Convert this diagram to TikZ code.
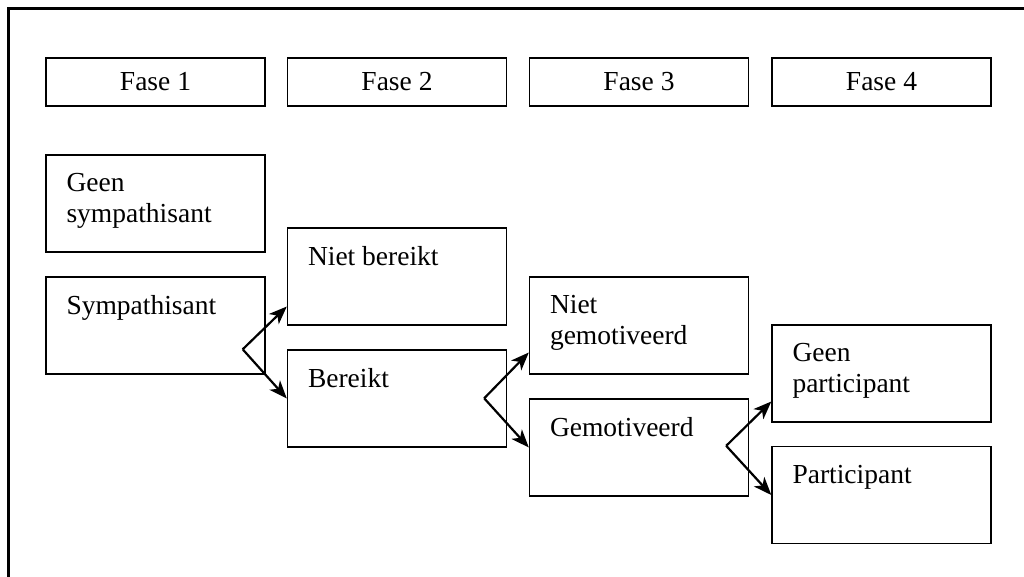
\documentclass[tikz,border=0pt]{standalone}
\usepackage{fontspec}
\setmainfont{Liberation Serif}
\usetikzlibrary{arrows.meta}
\begin{document}
\begin{tikzpicture}[x=1pt,y=-1pt,
	fase/.style={draw,line width=1.4pt,minimum width=219pt,minimum height=48pt,inner sep=0pt,font=\fontsize{27.5}{31}\selectfont},
	vak/.style={draw,line width=1.4pt,minimum width=219pt,minimum height=97pt,inner sep=0pt},
	tekst/.style={anchor=north west,inner sep=0pt,align=left,font=\fontsize{27.5}{31}\selectfont},
	pijl/.style={-{Stealth[length=18pt,width=14pt,inset=5pt]},line width=2.2pt}]
	\useasboundingbox (0,0) rectangle (1024,576);
	\draw[line width=2.5pt] (8.5,580) -- (8.5,8.5) -- (1030,8.5); % kader
	% fasen
	\node[fase] (f1) at (155.5,82) {Fase 1};
	\node[fase] (f2) at (397,82) {Fase 2};
	\node[fase] (f3) at (639,82) {Fase 3};
	\node[fase] (f4) at (881.5,82) {Fase 4};
	% vakken
	\node[vak] (gs) at (155.5,203.5) {};
	\node[vak] (sy) at (155.5,325.5) {};
	\node[vak] (nb) at (397,276.5) {};
	\node[vak] (be) at (397,398.5) {};
	\node[vak] (ng) at (639,325.5) {};
	\node[vak] (gm) at (639,447.5) {};
	\node[vak] (gp) at (881.5,373.5) {};
	\node[vak] (pa) at (881.5,495) {};
	\node[tekst] (tgs) at ([shift={(21pt,-19pt)}]gs.north west) {Geen\\sympathisant};
	\node[tekst] (tsy) at ([shift={(21pt,-19pt)}]sy.north west) {Sympathisant};
	\node[tekst] (tnb) at ([shift={(21pt,-19pt)}]nb.north west) {Niet bereikt};
	\node[tekst] (tbe) at ([shift={(21pt,-19pt)}]be.north west) {Bereikt};
	\node[tekst] (tng) at ([shift={(21pt,-19pt)}]ng.north west) {Niet\\gemotiveerd};
	\node[tekst] (tgm) at ([shift={(21pt,-19pt)}]gm.north west) {Gemotiveerd};
	\node[tekst] (tgp) at ([shift={(21pt,-19pt)}]gp.north west) {Geen\\participant};
	\node[tekst] (tpa) at ([shift={(21pt,-19pt)}]pa.north west) {Participant};
	% pijlen
	\coordinate (v1) at ([xshift=-23pt]sy.east |- be.north);
	\coordinate (v2) at ([xshift=-23pt]be.east |- gm.north);
	\coordinate (v3) at ([xshift=-23pt]gm.east |- pa.north);
	\draw[pijl] (v1) -- ([yshift=-30pt]nb.west);
	\draw[pijl] (v1) -- (be.west);
	\draw[pijl] (v2) -- ([yshift=-27pt]ng.west);
	\draw[pijl] (v2) -- (gm.west);
	\draw[pijl] (v3) -- ([yshift=-28pt]gp.west);
	\draw[pijl] (v3) -- (pa.west);
\end{tikzpicture}
\end{document}
